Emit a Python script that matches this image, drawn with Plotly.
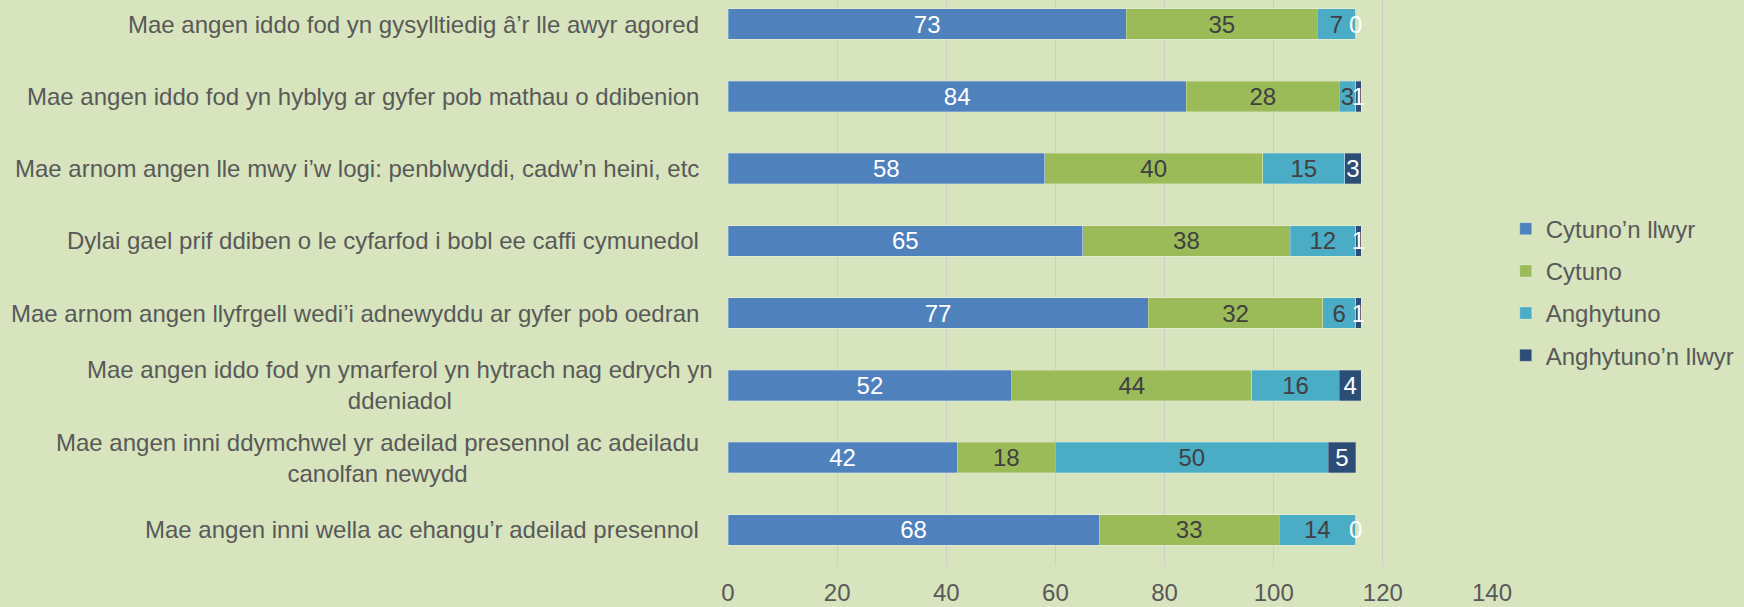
import plotly.graph_objects as go

categories = [
    "Mae angen iddo fod yn gysylltiedig â’r lle awyr agored",
    "Mae angen iddo fod yn hyblyg ar gyfer pob mathau o ddibenion",
    "Mae arnom angen lle mwy i’w logi: penblwyddi, cadw’n heini, etc",
    "Dylai gael prif ddiben o le cyfarfod i bobl ee caffi cymunedol",
    "Mae arnom angen llyfrgell wedi’i adnewyddu ar gyfer pob oedran",
    "Mae angen iddo fod yn ymarferol yn hytrach nag edrych yn<br>ddeniadol",
    "Mae angen inni ddymchwel yr adeilad presennol ac adeiladu<br>canolfan newydd",
    "Mae angen inni wella ac ehangu’r adeilad presennol",
]
series_names = ["Cytuno’n llwyr", "Cytuno", "Anghytuno", "Anghytuno’n llwyr"]
cytuno_llwyr = [73, 84, 58, 65, 77, 52, 42, 68]
cytuno = [35, 28, 40, 38, 32, 44, 18, 33]
anghytuno = [7, 3, 15, 12, 6, 16, 50, 14]
anghytuno_llwyr = [0, 1, 3, 1, 1, 4, 5, 0]
x_ticks = [0, 20, 40, 60, 80, 100, 120, 140]

colors = ["#4F81BD", "#9BBB59", "#4BACC6", "#2C4D75"]
text_colors = ["#FFFFFF", "#404040", "#404040", "#FFFFFF"]
FONT = "Liberation Sans, Arial, sans-serif"
FS = 24

all_series = [cytuno_llwyr, cytuno, anghytuno, anghytuno_llwyr]

fig = go.Figure()
for i, (name, vals) in enumerate(zip(series_names, all_series)):
    positions = ["none" if v == 0 else "inside" for v in vals]
    fig.add_trace(go.Bar(
        y=categories, x=vals, orientation="h", name=name,
        marker=dict(color=colors[i], line=dict(width=0.75, color="rgba(255,255,255,0.35)")),
        text=[str(v) for v in vals], textposition=positions,
        insidetextanchor="middle", textangle=0, constraintext="none",
        insidetextfont=dict(family=FONT, size=FS, color=text_colors[i]),
        cliponaxis=False,
        width=0.42, legendgroup=name,
    ))

# labels for zero-width segments, centred where the segment sits
for i, vals in enumerate(all_series):
    for j, v in enumerate(vals):
        if v == 0:
            start = sum(all_series[k][j] for k in range(i))
            fig.add_annotation(
                x=start + v / 2, y=categories[j], xref="x", yref="y", text=str(v),
                showarrow=False, xanchor="center", yanchor="middle",
                font=dict(family=FONT, size=FS, color="#FFFFFF"),
            )

label_shift = {5: -13}
for j, c in enumerate(categories):
    fig.add_annotation(
        x=0, xref="paper", y=c, yref="y", text=c, showarrow=False,
        xanchor="right", yanchor="middle", align="center", xshift=label_shift.get(j, -27),
        font=dict(family=FONT, size=FS, color="#595959"),
    )

fig.update_layout(
    width=1744, height=607,
    margin=dict(l=728, r=252, t=0, b=41),
    paper_bgcolor="#D7E4BD", plot_bgcolor="#D7E4BD",
    barmode="stack",
    font=dict(family=FONT, size=FS, color="#595959"),
    xaxis=dict(range=[0, 140], tickvals=x_ticks, showgrid=True, gridcolor="#CDCFCB",
               gridwidth=1, zeroline=False, showline=False, ticks="", automargin=False,
               ticklabelstandoff=10, tickfont=dict(size=FS, color="#595959")),
    yaxis=dict(categoryorder="array", categoryarray=categories, range=[7.5, -0.334],
               automargin=False,
               showticklabels=False, showgrid=False, zeroline=False, showline=False),
    legend=dict(x=1.018, xanchor="left", y=0.635, yanchor="top", traceorder="grouped",
                tracegroupgap=8, bgcolor="rgba(0,0,0,0)",
                font=dict(family=FONT, size=FS, color="#595959")),
    showlegend=True,
)

fig.write_html("out.html", config={"displayModeBar": False},
               post_script="document.body.style.margin='0';document.body.style.overflow='hidden';")
